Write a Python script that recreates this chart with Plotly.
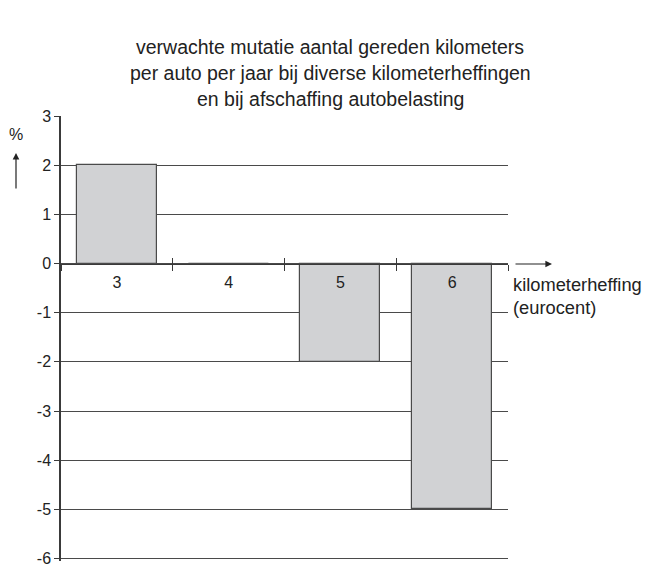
import plotly.graph_objects as go

categories = ["3", "4", "5", "6"]
values = [2, 0, -2, -5]
y_ticks = [-6, -5, -4, -3, -2, -1, 0, 1, 2, 3]

title_lines = [
    "verwachte mutatie aantal gereden kilometers",
    "per auto per jaar bij diverse kilometerheffingen",
    "en bij afschaffing autobelasting",
]

# the page body adds an 8px offset, so the figure is 8px smaller and
# all reference pixel positions are shifted by OFF
OFF = 8
W, H = 651 - OFF, 564 - OFF
L, R, T, B = 61 - OFF, 143, 116 - OFF, 3
pw, ph = W - L - R, H - T - B
Y_MIN, Y_MAX = -6.05, 3
zero_pos = (0 - Y_MIN) / (Y_MAX - Y_MIN)


def px(x):
    return (x - OFF - L) / pw


def py(y):
    return (H - B - (y - OFF)) / ph


FONT = "Liberation Sans, Arial, sans-serif"
DARK = "#3a3a3a"
TXT = "#222"

fig = go.Figure()
fig.add_trace(go.Bar(
    x=categories, y=values, width=0.715,
    marker=dict(color="#d1d2d4", line=dict(color="#4a4a4a", width=1.2)),
    hoverinfo="skip", showlegend=False,
))
# helper trace for the overlay axis providing upward ticks on the zero line
fig.add_trace(go.Scatter(
    x=[0], y=[0], xaxis="x2", mode="markers",
    marker=dict(opacity=0), hoverinfo="skip", showlegend=False,
))

fig.update_layout(
    width=W, height=H,
    margin=dict(l=L, r=R, t=T, b=B, autoexpand=False),
    paper_bgcolor="white", plot_bgcolor="white",
    font=dict(family=FONT, size=16, color=TXT),
    xaxis=dict(
        type="category", range=[-0.5, 3.5], automargin=False,
        anchor="free", position=zero_pos,
        showline=True, linecolor=DARK, linewidth=1.3,
        tickson="boundaries", ticks="outside", ticklen=6, tickwidth=1.2,
        tickcolor=DARK, showgrid=False, zeroline=False,
        ticklabelstandoff=4,
        tickfont=dict(size=16, color=TXT),
    ),
    xaxis2=dict(
        overlaying="x", range=[-0.5, 3.5], anchor="free", position=zero_pos,
        automargin=False,
        tickvals=[0.5, 1.5, 2.5, 3.5], ticks="inside", ticklen=6, tickwidth=1.2,
        tickcolor=DARK, showticklabels=False, showline=False, showgrid=False,
        zeroline=False,
    ),
    yaxis=dict(
        range=[Y_MIN, Y_MAX], tickvals=y_ticks, ticktext=[str(v) for v in y_ticks],
        automargin=False, ticklabeloverflow="allow",
        showline=True, linecolor=DARK, linewidth=1.5,
        ticks="outside", ticklen=5, tickwidth=1.2, tickcolor=DARK,
        showgrid=True, gridcolor="#4a4a4a", gridwidth=1.2,
        zeroline=False, tickfont=dict(size=16, color=TXT),
    ),
    bargap=0.0,
)

annotations = []
for line, yy in zip(title_lines, [47, 73, 99]):
    annotations.append(dict(
        text=line, xref="paper", yref="paper", x=px(330), y=py(yy),
        xanchor="center", yanchor="middle", showarrow=False,
        font=dict(size=19.5, color=TXT, family=FONT),
    ))
annotations += [
    dict(text="%", xref="paper", yref="paper", x=px(16), y=py(134),
         xanchor="center", yanchor="middle", showarrow=False,
         font=dict(size=16, color=TXT)),
    dict(text="", xref="paper", yref="paper", x=px(16), y=py(153),
         ax=0, ay=37, showarrow=True, arrowhead=2, arrowsize=1.1,
         arrowwidth=1.2, arrowcolor=TXT),
    dict(text="", xref="paper", yref="paper", x=px(552), y=py(264),
         ax=-38, ay=0, showarrow=True, arrowhead=2, arrowsize=1.1,
         arrowwidth=1.2, arrowcolor=TXT),
    dict(text="kilometerheffing", xref="paper", yref="paper", x=px(511), y=py(284),
         xanchor="left", yanchor="middle", showarrow=False,
         font=dict(size=18.3, color=TXT)),
    dict(text="(eurocent)", xref="paper", yref="paper", x=px(511), y=py(307),
         xanchor="left", yanchor="middle", showarrow=False,
         font=dict(size=18.3, color=TXT)),
]
fig.update_layout(annotations=annotations)

fig.write_html("out.html")
